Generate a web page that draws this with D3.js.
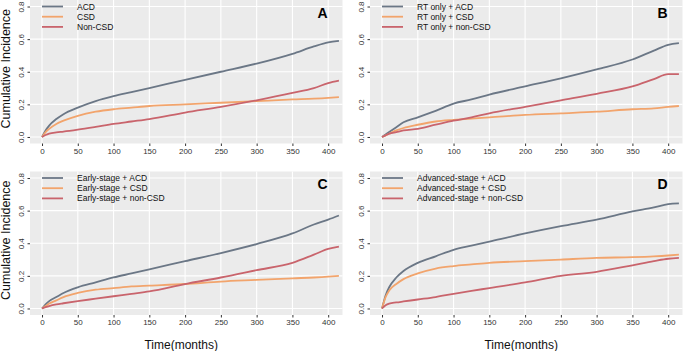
<!DOCTYPE html>
<html lang="en">
<head>
<meta charset="utf-8">
<title>Cumulative incidence</title>
<script src="https://d3js.org/d3.v7.min.js"></script>
<style>
  body { margin: 0; background: #fff; }
  text { font-family: "Liberation Sans", Arial, Helvetica, sans-serif; }
  .tick text { font-size: 8px; fill: #333; }
  .tick line { stroke: #333; }
  .domain { display: none; }
</style>
</head>
<body>
<script>
// data
var months = [0, 5, 10, 20, 30, 50, 75, 100, 125, 150, 200, 250, 300, 350, 380, 400, 415];
var xTicks = [0, 50, 100, 150, 200, 250, 300, 350, 400];
var yTicks = [0, 0.2, 0.4, 0.6, 0.8];

var aACD = [0, .04, .07, .11, .14, .18, .22, .25, .275, .30, .35, .40, .45, .51, .555, .58, .59];
var aCSD = [0, .03, .05, .08, .10, .13, .155, .17, .18, .19, .20, .21, .22, .23, .235, .24, .245];
var aNon = [0, .012, .02, .028, .033, .045, .062, .08, .095, .11, .15, .185, .225, .27, .30, .33, .345];

var bACD = [0, .015, .03, .06, .09, .12, .16, .205, .23, .26, .31, .36, .415, .475, .53, .565, .575];
var bCSD = [0, .01, .02, .04, .055, .075, .095, .105, .113, .12, .135, .145, .155, .17, .175, .185, .19];
var bNon = [0, .01, .02, .03, .04, .05, .075, .10, .12, .145, .185, .225, .265, .31, .355, .385, .385];

var cACD = [0, .025, .045, .07, .095, .13, .16, .19, .215, .24, .29, .34, .395, .46, .515, .545, .57];
var cCSD = [0, .015, .03, .05, .07, .095, .115, .125, .135, .14, .15, .165, .175, .185, .19, .195, .20];
var cNon = [0, .008, .015, .025, .032, .045, .06, .075, .09, .105, .15, .19, .235, .28, .33, .365, .38];

var dACD = [0, .08, .13, .19, .23, .28, .32, .36, .385, .41, .46, .505, .545, .595, .62, .64, .645];
var dCSD = [0, .07, .11, .15, .18, .215, .245, .26, .27, .28, .29, .30, .31, .315, .32, .325, .33];
var dNon = [0, .02, .03, .037, .043, .055, .07, .09, .108, .125, .16, .2, .225, .265, .29, .305, .31];

var colors = ["#6b7786", "#f2a46c", "#c9646c"];

var panels = [
  { label: "A", x: 30, y: 0, names: ["ACD", "CSD", "Non-CSD"], series: [aACD, aCSD, aNon], ytitle: true, xtitle: false },
  { label: "B", x: 370, y: 0, names: ["RT only + ACD", "RT only + CSD", "RT only + non-CSD"], series: [bACD, bCSD, bNon], ytitle: false, xtitle: false },
  { label: "C", x: 30, y: 171.5, names: ["Early-stage + ACD", "Early-stage + CSD", "Early-stage + non-CSD"], series: [cACD, cCSD, cNon], ytitle: true, xtitle: true },
  { label: "D", x: 370, y: 171.5, names: ["Advanced-stage + ACD", "Advanced-stage + CSD", "Advanced-stage + non-CSD"], series: [dACD, dCSD, dNon], ytitle: false, xtitle: true }
];

var pw = 312.5, ph = 143.5;

var svg = d3.select("body").append("svg")
  .attr("width", 685)
  .attr("height", 351);

var xScale = d3.scaleLinear().domain([-16.8, 420]).range([0, pw]);
var yScale = d3.scaleLinear().domain([-0.04, 0.84]).range([ph, 0]);

var line = d3.line()
  .x(function (d) { return xScale(d[0]); })
  .y(function (d) { return yScale(d[1]); })
  .curve(d3.curveMonotoneX);

panels.forEach(function (p) {
  var g = svg.append("g").attr("transform", "translate(" + p.x + "," + p.y + ")");

  // background
  g.append("rect").attr("width", pw).attr("height", ph).attr("fill", "#ebebeb");

  // grid
  g.selectAll(".gx").data(xTicks).enter().append("line")
    .attr("x1", xScale).attr("x2", xScale)
    .attr("y1", 0).attr("y2", ph)
    .attr("stroke", "#fff").attr("stroke-width", 1.1);
  g.selectAll(".gy").data(yTicks).enter().append("line")
    .attr("y1", yScale).attr("y2", yScale)
    .attr("x1", 0).attr("x2", pw)
    .attr("stroke", "#fff").attr("stroke-width", 1.1);

  // axes
  g.append("g")
    .attr("transform", "translate(0," + ph + ")")
    .call(d3.axisBottom(xScale).tickValues(xTicks).tickSize(2.5).tickPadding(2));

  var ya = g.append("g")
    .call(d3.axisLeft(yScale).tickValues(yTicks).tickSize(2.5).tickFormat(d3.format(".1f")));
  ya.selectAll(".tick text")
    .attr("x", null).attr("dy", null)
    .attr("text-anchor", "middle")
    .attr("transform", "translate(-6,0) rotate(-90)");

  // curves
  p.series.forEach(function (s, i) {
    var pts = months.map(function (m, j) { return [m, s[j]]; });
    g.append("path")
      .datum(pts)
      .attr("d", line)
      .attr("fill", "none")
      .attr("stroke", colors[i])
      .attr("stroke-width", 1.8);
  });

  // legend
  p.names.forEach(function (n, i) {
    var ly = 6.5 + i * 10.2;
    g.append("line")
      .attr("x1", 12).attr("x2", 33)
      .attr("y1", ly).attr("y2", ly)
      .attr("stroke", colors[i]).attr("stroke-width", 1.8);
    g.append("text")
      .attr("x", 47).attr("y", ly + 3)
      .attr("font-size", "8.5px")
      .attr("fill", "#111")
      .text(n);
  });

  // panel letter
  g.append("text")
    .attr("x", pw - 20).attr("y", 17.5)
    .attr("text-anchor", "middle")
    .attr("font-size", "14px")
    .attr("font-weight", "bold")
    .text(p.label);

  if (p.ytitle) {
    g.append("text")
      .attr("transform", "translate(" + (-20) + "," + (ph / 2 - 3) + ") rotate(-90)")
      .attr("text-anchor", "middle")
      .attr("font-size", "12.5px")
      .attr("fill", "#111")
      .text("Cumulative Incidence");
  }
  if (p.xtitle) {
    g.append("text")
      .attr("x", pw / 2 - 5).attr("y", 177)
      .attr("text-anchor", "middle")
      .attr("font-size", "12px")
      .attr("fill", "#111")
      .text("Time(months)");
  }
});
</script>
</body>
</html>
